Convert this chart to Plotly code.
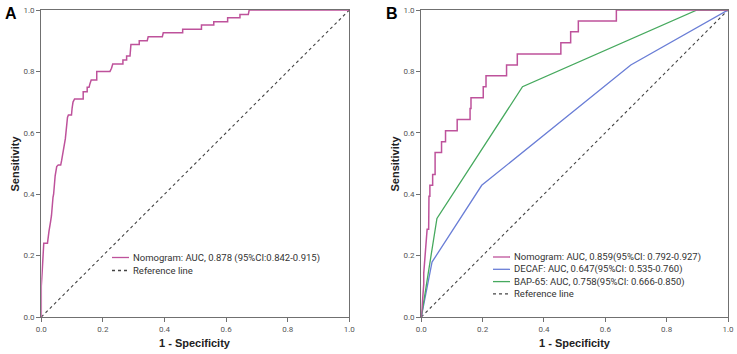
import plotly.graph_objects as go

# ---------------- data ----------------
# Panel A: Nomogram ROC (1 - specificity, sensitivity)
fpr_nomo_a = [0, 0, 0.003, 0.005, 0.008, 0.02, 0.022, 0.025, 0.03, 0.033, 0.038, 0.04, 0.045,
              0.047, 0.05, 0.055, 0.063, 0.066, 0.07, 0.074, 0.078, 0.08, 0.082, 0.085, 0.088,
              0.098, 0.1, 0.103, 0.108, 0.136, 0.136, 0.149, 0.149, 0.155, 0.158, 0.162, 0.18,
              0.18, 0.223, 0.228, 0.232, 0.265, 0.265, 0.277, 0.277, 0.288, 0.291, 0.318, 0.318,
              0.344, 0.347, 0.393, 0.396, 0.459, 0.459, 0.52, 0.52, 0.56, 0.56, 0.605, 0.605,
              0.645, 0.645, 0.672, 0.675, 1.0]
tpr_nomo_a = [0, 0.10, 0.15, 0.21, 0.24, 0.24, 0.26, 0.28, 0.31, 0.33, 0.39, 0.40, 0.46,
              0.48, 0.49, 0.495, 0.495, 0.51, 0.53, 0.56, 0.58, 0.60, 0.63, 0.65, 0.658,
              0.658, 0.68, 0.70, 0.71, 0.71, 0.734, 0.734, 0.748, 0.748, 0.76, 0.772, 0.772,
              0.8, 0.8, 0.81, 0.824, 0.824, 0.837, 0.837, 0.85, 0.85, 0.888, 0.888, 0.9,
              0.9, 0.913, 0.913, 0.926, 0.926, 0.937, 0.937, 0.951, 0.951, 0.962, 0.962, 0.975,
              0.975, 0.985, 0.985, 1.0, 1.0]

# Panel B
fpr_nomo_b = [0, 0.003, 0.005, 0.008, 0.008, 0.011, 0.013, 0.016, 0.019, 0.024, 0.024, 0.025,
              0.028, 0.028, 0.037, 0.037, 0.045, 0.045, 0.066, 0.066, 0.079, 0.079, 0.117,
              0.117, 0.159, 0.159, 0.162, 0.162, 0.202, 0.202, 0.211, 0.211, 0.278, 0.278,
              0.313, 0.313, 0.455, 0.455, 0.487, 0.487, 0.512, 0.512, 0.636, 0.636, 1.0]
tpr_nomo_b = [0, 0.036, 0.071, 0.107, 0.143, 0.179, 0.214, 0.25, 0.286, 0.286, 0.357, 0.393,
              0.393, 0.429, 0.429, 0.464, 0.464, 0.536, 0.536, 0.571, 0.571, 0.607, 0.607,
              0.643, 0.643, 0.679, 0.679, 0.714, 0.714, 0.75, 0.75, 0.786, 0.786, 0.821,
              0.821, 0.857, 0.857, 0.893, 0.893, 0.929, 0.929, 0.964, 0.964, 1.0, 1.0]

fpr_decaf = [0, 0.035, 0.197, 0.683, 1.0]
tpr_decaf = [0, 0.179, 0.429, 0.821, 1.0]

fpr_bap = [0, 0.051, 0.330, 0.899, 1.0]
tpr_bap = [0, 0.321, 0.75, 1.0, 1.0]

ref_x = [0, 1]
ref_y = [0, 1]

legend_a = ["Nomogram: AUC, 0.878 (95%CI:0.842-0.915)", "Reference line"]
legend_b = ["Nomogram: AUC, 0.859(95%CI: 0.792-0.927)",
            "DECAF: AUC, 0.647(95%CI: 0.535-0.760)",
            "BAP-65: AUC, 0.758(95%CI: 0.666-0.850)",
            "Reference line"]
tick_vals = [0, 0.2, 0.4, 0.6, 0.8, 1.0]
tick_text = ["0.0", "0.2", "0.4", "0.6", "0.8", "1.0"]
x_title = "1 - Specificity"
y_title = "Sensitivity"

# ---------------- style ----------------
W, H = 737, 354
PINK = "#BE529B"
BLUE = "#6A7ED6"
GREEN = "#46A95E"
REFC = "#444444"
AXC = "#707070"
FONT = "Roboto"

# plot areas in pixels
ax_a = (41.3, 349.3)
ax_b = (421.3, 728.0)
top_px, bot_px = 10.0, 317.0

def px2fx(px):
    return px / W

def py2fy(py):
    return 1 - py / H

fig = go.Figure()

def add(x, y, color, xa, ya, width=1.4, dash=None):
    fig.add_trace(go.Scatter(x=x, y=y, mode="lines", xaxis=xa, yaxis=ya, showlegend=False,
                             hoverinfo="skip",
                             line=dict(color=color, width=width, dash=dash)))

add(ref_x, ref_y, REFC, "x", "y", 1.1, "dot")
add(fpr_nomo_a, tpr_nomo_a, PINK, "x", "y", 1.5)
add(ref_x, ref_y, REFC, "x2", "y2", 1.1, "dot")
add(fpr_decaf, tpr_decaf, BLUE, "x2", "y2", 1.3)
add(fpr_bap, tpr_bap, GREEN, "x2", "y2", 1.3)
add(fpr_nomo_b, tpr_nomo_b, PINK, "x2", "y2", 1.5)

ydom = [py2fy(bot_px), py2fy(top_px)]
axis_common = dict(range=[0, 1], showgrid=False, zeroline=False, showline=True, mirror=True,
                   linecolor=AXC, linewidth=1.3, ticks="outside", ticklen=4, tickcolor=AXC,
                   tickwidth=1, tickvals=tick_vals, ticktext=tick_text, automargin=False,
                   tickfont=dict(family=FONT, size=8, color="#555555"), fixedrange=True)
title_font = dict(family="Liberation Sans", size=11, color="#222222")

fig.update_layout(
    width=W, height=H, margin=dict(l=0, r=0, t=0, b=0, autoexpand=False),
    paper_bgcolor="white", plot_bgcolor="white", showlegend=False,
    xaxis=dict(domain=[px2fx(ax_a[0]), px2fx(ax_a[1])], anchor="y", **axis_common),
    yaxis=dict(domain=ydom, anchor="x", **axis_common),
    xaxis2=dict(domain=[px2fx(ax_b[0]), px2fx(ax_b[1])], anchor="y2", **axis_common),
    yaxis2=dict(domain=ydom, anchor="x2", **axis_common),
)

# axis titles
ymid = (top_px + bot_px) / 2
for (xl, xr), ytx in [(ax_a, 14), (ax_b, 394)]:
    fig.add_annotation(x=px2fx((xl + xr) / 2), y=py2fy(343), xref="paper", yref="paper",
                       xanchor="center", yanchor="middle", text="<b>%s</b>" % x_title,
                       showarrow=False, font=title_font)
    fig.add_annotation(x=px2fx(ytx), y=py2fy(ymid), xref="paper", yref="paper",
                       xanchor="center", yanchor="middle", text="<b>%s</b>" % y_title,
                       textangle=-90, showarrow=False, font=title_font)

# panel labels
fig.add_annotation(x=px2fx(3), y=py2fy(3), xref="paper", yref="paper", xanchor="left", yanchor="top",
                   text="<b>A</b>", showarrow=False, font=dict(family="Liberation Sans", size=16, color="black"))
fig.add_annotation(x=px2fx(384), y=py2fy(3), xref="paper", yref="paper", xanchor="left", yanchor="top",
                   text="<b>B</b>", showarrow=False, font=dict(family="Liberation Sans", size=16, color="black"))

# custom legends
def legend(items, x0, y0, dy):
    for i, (name, color, dash) in enumerate(items):
        yy = y0 + i * dy
        fig.add_shape(type="line", xref="paper", yref="paper",
                      x0=px2fx(x0), x1=px2fx(x0 + 17), y0=py2fy(yy), y1=py2fy(yy),
                      line=dict(color=color, width=1.3, dash=dash))
        fig.add_annotation(x=px2fx(x0 + 19), y=py2fy(yy), xref="paper", yref="paper",
                           xanchor="left", yanchor="middle", text=name, showarrow=False,
                           font=dict(family=FONT, size=9.5, color="#333333"))

legend([(legend_a[0], PINK, None), (legend_a[1], REFC, "dot")], 112, 257.5, 13)
legend([(legend_b[0], PINK, None), (legend_b[1], BLUE, None), (legend_b[2], GREEN, None),
        (legend_b[3], REFC, "dot")], 493, 257, 12.3)

fig.write_html("out.html", config={"displayModeBar": False},
               post_script="document.body.style.margin='0';document.body.style.overflow='hidden';")
